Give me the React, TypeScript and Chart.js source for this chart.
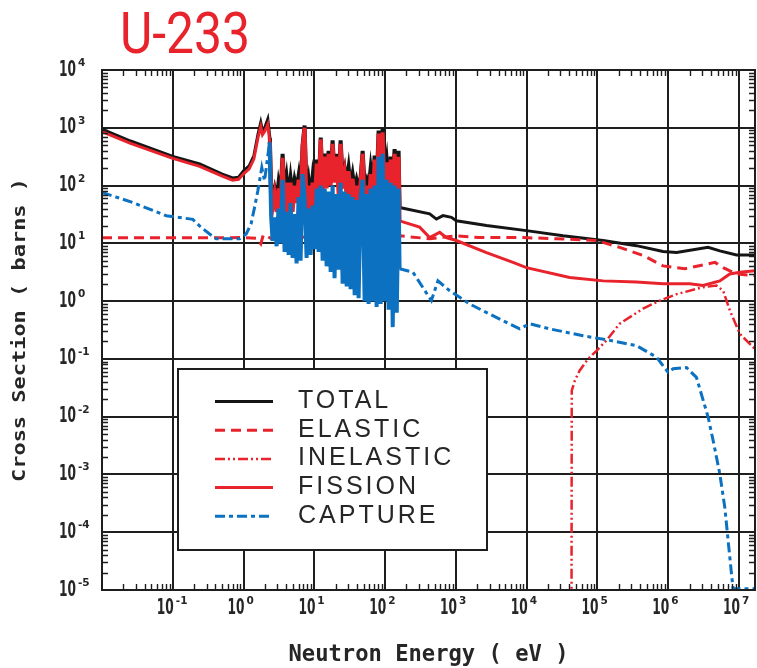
import React, { useEffect, useRef } from "react";
import { Chart, registerables } from "chart.js";

Chart.register(...registerables);

// ---------- text ----------
const TITLE = "U-233";
const X_TITLE = "Neutron Energy ( eV )";
const Y_TITLE = "Cross Section ( barns )";
const SERIES_LABELS = ["TOTAL", "ELASTIC", "INELASTIC", "FISSION", "CAPTURE"];

// ---------- axes ----------
const X_MIN = 1e-2;
const X_MAX = 1.68e7;
const Y_MIN = 1e-5;
const Y_MAX = 1e4;
const X_TICK_EXPONENTS = [-2, -1, 0, 1, 2, 3, 4, 5, 6, 7];
const X_LABEL_EXPONENTS = [-1, 0, 1, 2, 3, 4, 5, 6, 7];
const Y_TICK_EXPONENTS = [-5, -4, -3, -2, -1, 0, 1, 2, 3, 4];

// ---------- data (energy in eV, cross section in barns) ----------
// thermal / first resonance region
const totalLowE = [0.01, 0.0253, 0.1, 0.24, 0.5, 0.7, 0.85, 1.0, 1.2, 1.4, 1.6, 1.75, 1.85, 2.0, 2.2, 2.35, 2.45];
const totalLow = [950, 590, 320, 236, 158, 135, 140, 180, 220, 330, 780, 1240, 890, 1020, 1410, 680, 82];
const fissionLow = [860, 535, 295, 215, 145, 124, 128, 160, 195, 290, 680, 1050, 760, 880, 1150, 560, 60];

const captureLowE = [0.01, 0.027, 0.081, 0.124, 0.192, 0.239, 0.331, 0.411, 0.878, 1.09, 1.28, 1.43, 1.59, 1.81, 1.98, 2.33, 2.45];
const captureLow = [76, 51, 30, 28, 26, 20, 14.5, 12, 12, 14.5, 22, 42, 81, 205, 121, 560, 30];

const elasticLowE = [0.01, 0.5, 1.0, 1.5, 1.75, 1.9, 2.2, 2.5, 3.0, 4.0, 6.0, 10, 20, 50, 100, 155];
const elasticLow = [12.5, 12.5, 12.6, 12.2, 9.8, 14.0, 13.0, 12.0, 13.5, 12.5, 13.0, 12.5, 13.0, 12.5, 13.0, 13.5];

// resolved resonance forest
const resE = [
  2.57, 2.74, 2.93, 3.12, 3.33, 3.56, 3.8, 4.05, 4.33, 4.62, 4.93, 5.26, 5.61, 5.99, 6.39, 6.82,
  7.28, 7.77, 8.29, 8.85, 9.44, 10.1, 10.8, 11.5, 12.3, 13.1, 14.0, 14.9, 15.9, 17.0, 18.1, 19.3,
  20.6, 22.0, 23.5, 25.1, 26.8, 28.6, 30.5, 32.5, 34.7, 37.1, 39.5, 42.2, 45.1, 48.1, 51.3, 54.8,
  58.4, 62.4, 66.6, 71.1, 75.8, 80.9, 86.4, 92.2, 98.4, 105, 112, 120, 128, 136, 146, 155,
];
const resTotal = [
  63, 89, 56, 112, 71, 355, 79, 141, 63, 135, 71, 126, 89, 148, 63, 501,
  1096, 71, 126, 63, 141, 71, 282, 100, 676, 112, 355, 126, 398, 141, 603, 158,
  355, 112, 603, 141, 200, 112, 204, 100, 158, 89, 126, 89, 141, 398, 100, 126,
  89, 200, 100, 331, 112, 891, 126, 1000, 158, 282, 100, 316, 112, 427, 126, 398,
];
const resFission = [
  42, 71, 35, 89, 40, 302, 35, 112, 32, 112, 35, 100, 50, 126, 35, 447,
  1000, 32, 100, 35, 112, 45, 240, 71, 631, 79, 316, 89, 355, 100, 525, 112,
  316, 71, 525, 89, 158, 63, 178, 56, 132, 50, 100, 40, 112, 355, 45, 100,
  35, 158, 40, 282, 45, 794, 50, 832, 63, 251, 45, 282, 50, 355, 63, 316,
];
const resCapture = [
  11, 28, 8.9, 40, 10, 126, 7.1, 35, 6.3, 50, 5.6, 32, 4.5, 63, 5.0, 158,
  63, 5.6, 40, 6.3, 45, 7.9, 89, 7.1, 100, 5.0, 89, 4.0, 79, 3.2, 100, 2.5,
  71, 3.5, 112, 2.0, 79, 1.8, 71, 1.6, 63, 1.26, 56, 1.12, 63, 126, 1.0, 71,
  0.89, 89, 1.0, 100, 0.79, 316, 0.89, 355, 1.0, 126, 0.71, 112, 0.355, 100, 0.63, 89,
];

// unresolved / fast region
const totalHighE = [160, 426, 530, 656, 863, 1015, 2700, 9900, 32600, 120000, 355000, 843000, 1.31e6, 3.65e6, 5.35e6, 9.2e6, 1.77e7];
const totalHigh = [41.7, 32.4, 26.3, 30.2, 28.2, 24.5, 20.4, 16.6, 13.5, 11.2, 9.12, 7.24, 6.92, 8.51, 7.41, 6.31, 6.31];

const fissionHighE = [160, 307, 426, 589, 730, 1015, 2700, 6400, 9900, 40500, 120000, 355000, 843000, 2.01e6, 3.1e6, 5.35e6, 7.4e6, 1.03e7, 1.77e7];
const fissionHigh = [24.5, 19.1, 12.6, 15.5, 12.6, 11.2, 6.92, 4.68, 3.8, 2.57, 2.24, 2.14, 2.0, 2.0, 1.86, 2.24, 2.95, 3.16, 3.39];

const elasticHighE = [160, 426, 1015, 2170, 8870, 26300, 96600, 206000, 441000, 843000, 1.72e6, 4.57e6, 5.96e6, 9.2e6, 1.77e7];
const elasticHigh = [13.5, 12.0, 13.5, 12.6, 12.6, 12.0, 11.2, 8.51, 6.17, 4.07, 3.63, 4.68, 3.8, 2.95, 2.75];

const captureHighE = [160, 247, 450, 557, 817, 1565, 4620, 7960, 11000, 21100, 62500, 149000, 355000, 681000, 993000, 1.17e6, 1.81e6, 2.5e6, 3.66e6, 4.3e6, 5.35e6, 6.29e6, 7.0e6, 7.82e6, 8.24e6, 1.77e7];
const captureHigh = [3.63, 3.16, 1.02, 2.24, 1.51, 0.891, 0.457, 0.331, 0.407, 0.331, 0.251, 0.209, 0.17, 0.107, 0.0589, 0.0676, 0.0708, 0.0479, 0.00977, 0.00389, 0.00102, 0.000269, 0.0000724, 0.0000191, 0.0000105, 0.0000105];

const inelasticE = [42900, 43300, 47700, 56100, 73500, 96600, 134000, 206000, 441000, 759000, 1.31e6, 3.1e6, 4.8e6, 5.96e6, 7.4e6, 1.03e7, 1.78e7];
const inelastic = [1e-6, 0.0282, 0.0417, 0.0631, 0.1, 0.138, 0.209, 0.407, 0.741, 1.02, 1.32, 1.74, 1.86, 1.51, 0.692, 0.269, 0.138];

// ---------- styles ----------
const BLACK = "#151515";
const RED = "#e8232c";
const BLUE = "#0b71c0";
const GRID = "#1e1e1e";
const TEXT = "#262626";
const RES_LO = 2.3;
const RES_HI = 160;

const LEGEND_BOX = { left: 178, top: 369, width: 309, height: 181 };
const LEGEND_ROWS = { lineX0: 215, lineX1: 273, firstY: 401.5, step: 28.7, textX: 298 };

function pts(...parts: [number[], number[]][]) {
  const out: { x: number; y: number }[] = [];
  for (const [xs, ys] of parts) xs.forEach((x, i) => out.push({ x, y: ys[i] }));
  return out;
}

function inRes(c: any) {
  return c.p0.parsed.x >= RES_LO && c.p1.parsed.x <= RES_HI;
}

function drawText(ctx: CanvasRenderingContext2D, text: string, x: number, y: number, font: string, sx: number, align: CanvasTextAlign) {
  ctx.save();
  ctx.font = font;
  ctx.translate(x, y);
  ctx.scale(sx, 1);
  ctx.textAlign = align;
  ctx.textBaseline = "alphabetic";
  ctx.fillText(text, 0, 0);
  ctx.restore();
}

const TEN_FONT = 'bold 21px "DejaVu Sans"';
const TEN_SX = 0.58;
const EXP_FONT = 'bold 10px "DejaVu Sans"';

const decorPlugin = {
  id: "decor",
  afterDatasetsDraw(chart: any) {
    const { ctx, chartArea: a, scales } = chart;
    const xs = scales.x;
    const ys = scales.y;
    ctx.save();
    ctx.strokeStyle = GRID;
    ctx.lineWidth = 2;
    ctx.setLineDash([]);
    ctx.strokeRect(a.left, a.top, a.right - a.left, a.bottom - a.top);
    ctx.lineWidth = 1.4;
    ctx.beginPath();
    for (const e of X_TICK_EXPONENTS) {
      for (let m = 2; m <= 9; m++) {
        const v = m * Math.pow(10, e);
        if (v >= X_MAX) continue;
        const px = Math.round(xs.getPixelForValue(v)) + 0.5;
        ctx.moveTo(px, a.bottom);
        ctx.lineTo(px, a.bottom - 6);
        ctx.moveTo(px, a.top);
        ctx.lineTo(px, a.top + 6);
      }
    }
    for (const e of Y_TICK_EXPONENTS) {
      for (let m = 2; m <= 9; m++) {
        const v = m * Math.pow(10, e);
        if (v >= Y_MAX) continue;
        const py = Math.round(ys.getPixelForValue(v)) + 0.5;
        ctx.moveTo(a.left, py);
        ctx.lineTo(a.left + 6, py);
        ctx.moveTo(a.right, py);
        ctx.lineTo(a.right - 6, py);
      }
    }
    ctx.stroke();
    ctx.restore();
  },
  afterDraw(chart: any) {
    const { ctx, chartArea: a, scales } = chart;
    const xs = scales.x;
    const ys = scales.y;
    ctx.save();

    // legend
    ctx.fillStyle = "#ffffff";
    ctx.fillRect(LEGEND_BOX.left, LEGEND_BOX.top, LEGEND_BOX.width, LEGEND_BOX.height);
    ctx.strokeStyle = GRID;
    ctx.lineWidth = 2;
    ctx.setLineDash([]);
    ctx.strokeRect(LEGEND_BOX.left, LEGEND_BOX.top, LEGEND_BOX.width, LEGEND_BOX.height);
    chart.data.datasets.forEach((ds: any, i: number) => {
      const y = LEGEND_ROWS.firstY + i * LEGEND_ROWS.step;
      ctx.save();
      ctx.strokeStyle = ds.borderColor;
      ctx.lineWidth = ds.borderWidth;
      ctx.setLineDash(ds.borderDash || []);
      ctx.beginPath();
      ctx.moveTo(LEGEND_ROWS.lineX0, y);
      ctx.lineTo(LEGEND_ROWS.lineX1, y);
      ctx.stroke();
      ctx.restore();
      ctx.save();
      ctx.fillStyle = TEXT;
      ctx.font = '25px "Liberation Sans"';
      (ctx as any).letterSpacing = "3px";
      ctx.textAlign = "left";
      ctx.textBaseline = "alphabetic";
      ctx.fillText(ds.label, LEGEND_ROWS.textX, y + 6.5);
      ctx.restore();
    });

    // tick labels
    ctx.fillStyle = TEXT;
    for (const e of X_LABEL_EXPONENTS) {
      const gx = xs.getPixelForValue(Math.pow(10, e));
      drawText(ctx, "10", gx + 1, a.bottom + 24, TEN_FONT, TEN_SX, "right");
      drawText(ctx, String(e), gx + 3, a.bottom + 14, EXP_FONT, 1.05, "left");
    }
    ctx.font = TEN_FONT;
    const tenW = ctx.measureText("10").width * TEN_SX;
    for (const e of Y_TICK_EXPONENTS) {
      const gy = ys.getPixelForValue(Math.pow(10, e));
      drawText(ctx, "10", 59, gy + 5.5, TEN_FONT, TEN_SX, "left");
      drawText(ctx, String(e), 59 + tenW + 2, gy - 4, EXP_FONT, 1.05, "left");
    }

    // axis titles
    ctx.font = 'bold 23px "DejaVu Sans Mono"';
    const xw = ctx.measureText(X_TITLE).width;
    drawText(ctx, X_TITLE, (a.left + a.right) / 2, 661, ctx.font, 280 / xw, "center");

    ctx.save();
    ctx.font = 'bold 17px "DejaVu Sans Mono"';
    const yw = ctx.measureText(Y_TITLE).width;
    ctx.translate(25, (a.top + a.bottom) / 2);
    ctx.rotate(-Math.PI / 2);
    ctx.scale(304 / yw, 1);
    ctx.textAlign = "center";
    ctx.textBaseline = "alphabetic";
    ctx.fillText(Y_TITLE, 0, 0);
    ctx.restore();

    // title
    ctx.fillStyle = RED;
    ctx.font = '57px Roboto';
    const tw = ctx.measureText(TITLE).width;
    drawText(ctx, TITLE, 120, 53, ctx.font, 130 / tw, "left");

    ctx.restore();
  },
};

export default function App() {
  const ref = useRef<HTMLCanvasElement>(null);
  useEffect(() => {
    if (!ref.current) return;
    const common = { pointRadius: 0, tension: 0, fill: false };
    const chart = new Chart(ref.current, {
      type: "line",
      data: {
        datasets: [
          {
            ...common,
            label: SERIES_LABELS[0],
            data: pts([totalLowE, totalLow], [resE, resTotal], [totalHighE, totalHigh]),
            borderColor: BLACK,
            borderWidth: 3,
            borderDash: [],
            order: 4,
            segment: { borderWidth: (c: any) => (inRes(c) ? 4 : undefined) },
          },
          {
            ...common,
            label: SERIES_LABELS[1],
            data: pts([elasticLowE, elasticLow], [elasticHighE, elasticHigh]),
            borderColor: RED,
            borderWidth: 3,
            borderDash: [10, 6],
            order: 3,
          },
          {
            ...common,
            label: SERIES_LABELS[2],
            data: pts([inelasticE, inelastic]),
            borderColor: RED,
            borderWidth: 2.5,
            borderDash: [10, 3, 2, 3, 2, 3],
            order: 2,
          },
          {
            ...common,
            label: SERIES_LABELS[3],
            data: pts([totalLowE, fissionLow], [resE, resFission], [fissionHighE, fissionHigh]),
            borderColor: RED,
            borderWidth: 3,
            borderDash: [],
            order: 1,
            segment: { borderWidth: (c: any) => (inRes(c) ? 4 : undefined) },
          },
          {
            ...common,
            label: SERIES_LABELS[4],
            data: pts([captureLowE, captureLow], [resE, resCapture], [captureHighE, captureHigh]),
            borderColor: BLUE,
            borderWidth: 3,
            borderDash: [10, 4, 4, 4],
            order: 0,
            segment: {
              borderDash: (c: any) => (inRes(c) ? [] : undefined),
              borderWidth: (c: any) => (inRes(c) ? 4 : undefined),
            },
          },
        ] as any,
      },
      options: {
        responsive: false,
        animation: false,
        devicePixelRatio: 1,
        layout: { padding: { left: 0, right: 2, top: 70, bottom: 0 } },
        plugins: { legend: { display: false }, tooltip: { enabled: false }, title: { display: false } },
        scales: {
          x: {
            type: "logarithmic",
            min: X_MIN,
            max: X_MAX,
            afterBuildTicks: (s: any) => {
              s.ticks = X_TICK_EXPONENTS.map((e) => ({ value: Math.pow(10, e) }));
            },
            afterFit: (s: any) => {
              s.height = 78;
            },
            ticks: { display: false },
            grid: { color: GRID, lineWidth: 2, drawTicks: false },
            border: { display: true, color: GRID, width: 2 },
          },
          y: {
            type: "logarithmic",
            min: Y_MIN,
            max: Y_MAX,
            afterBuildTicks: (s: any) => {
              s.ticks = Y_TICK_EXPONENTS.map((e) => ({ value: Math.pow(10, e) }));
            },
            afterFit: (s: any) => {
              s.width = 102;
            },
            ticks: { display: false },
            grid: { color: GRID, lineWidth: 2, drawTicks: false },
            border: { display: true, color: GRID, width: 2 },
          },
        },
      } as any,
      plugins: [decorPlugin],
    });
    return () => chart.destroy();
  }, []);
  return (
    <div style={{ position: "absolute", left: 0, top: 0, width: 757, height: 668, background: "#ffffff" }}>
      <canvas ref={ref} width={757} height={668} style={{ display: "block", width: 757, height: 668 }} />
    </div>
  );
}
